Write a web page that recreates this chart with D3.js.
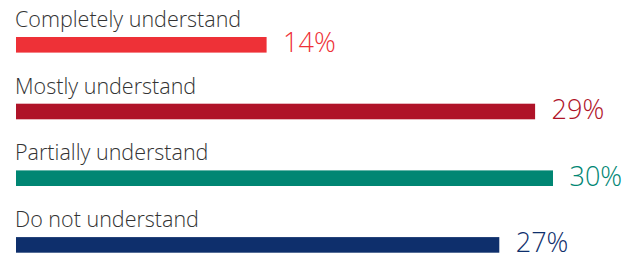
<!DOCTYPE html>
<html><head><meta charset="utf-8">
<script src="https://cdn.jsdelivr.net/npm/d3@7"></script>
<style>body{margin:0;background:#fff}svg{display:block}</style>
</head><body><div id="chart"></div>
<script>
const categories = ["Completely understand","Mostly understand","Partially understand","Do not understand"];
const values = [14, 29, 30, 27];
const colors = ["#EE3137","#AF1328","#008673","#0E2F6C"];
const valueLabels = ["14%","29%","30%","27%"];

const W = 638, H = 255;
const svg = d3.select("#chart").append("svg").attr("width", W).attr("height", H);
const x = d3.scaleLinear().domain([0, 30]).range([16, 553]);
const y = d3.scaleBand().domain(categories).range([37, 37 + 66.7*4]).paddingInner(0).paddingOuter(0);
const barH = 15.6;
const font = "'Open Sans', sans-serif";

const g = svg.selectAll("g.row").data(categories).enter().append("g").attr("class","row");
g.append("rect")
  .attr("x", x(0))
  .attr("y", d => y(d))
  .attr("width", (d,i) => x(values[i]) - x(0))
  .attr("height", barH)
  .attr("fill", (d,i) => colors[i]);
g.append("text")
  .attr("x", 15)
  .attr("y", d => y(d) - 10)
  .attr("font-family", font)
  .attr("font-weight", 300)
  .attr("font-size", 21.5)
  .attr("fill", "#333")
  .text(d => d);
g.append("text")
  .attr("x", (d,i) => x(values[i]) + 16.5)
  .attr("y", d => y(d) + barH - 0.5)
  .attr("font-family", font)
  .attr("font-weight", 300)
  .attr("font-size", 27)
  .attr("fill", (d,i) => colors[i])
  .text((d,i) => valueLabels[i]);
</script></body></html>
